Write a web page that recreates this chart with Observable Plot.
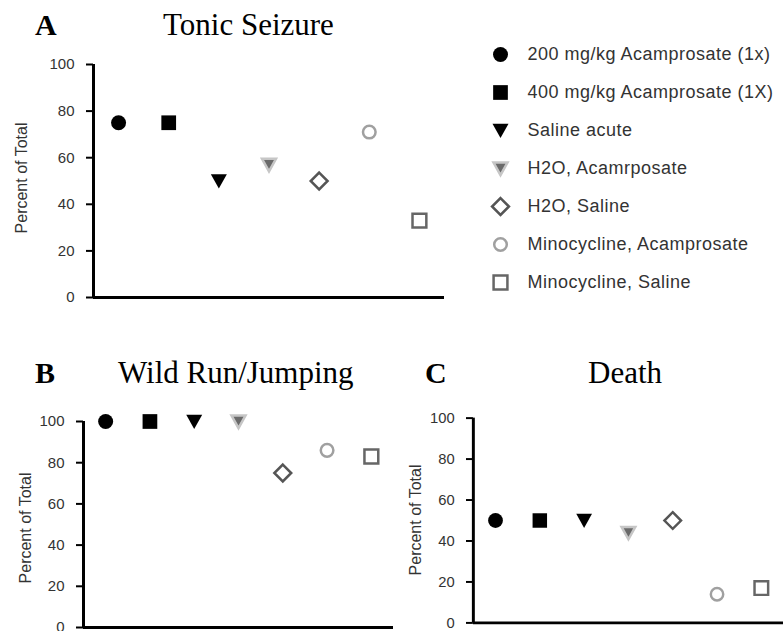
<!DOCTYPE html>
<html><head><meta charset="utf-8">
<script src="https://cdn.jsdelivr.net/npm/d3@7"></script>
<script src="https://cdn.jsdelivr.net/npm/@observablehq/plot@0.6"></script>
<style>
body{margin:0;background:#fff;overflow:hidden;}
#wrap{position:relative;width:783px;height:631px;overflow:hidden;font-family:Arial,"Liberation Sans",sans-serif;}
.p{position:absolute;}
.p svg{overflow:visible;}
.p svg g[aria-label="y-axis tick label"]{font-size:15px;}
</style></head><body><div id="wrap"></div>
<script>
// ---- data ----
const groups = ["200 mg/kg Acamprosate (1x)", "400 mg/kg Acamprosate (1X)", "Saline acute", "H2O, Acamrposate", "H2O, Saline", "Minocycline, Acamprosate", "Minocycline, Saline"];
const tonicSeizure = [75, 75, 50, 57, 50, 71, 33];
const wildRunJumping = [100, 100, 100, 100, 75, 86, 83];
const death = [50, 50, 50, 44, 50, 14, 17];
const yTicks = [0, 20, 40, 60, 80, 100];
const panelLetters = ["A", "B", "C"];
const panelTitles = ["Tonic Seizure", "Wild Run/Jumping", "Death"];
const yLabel = "Percent of Total";

// ---- styles ----
const triDown = {draw(ctx, size){ const r = Math.sqrt(size/Math.PI); ctx.moveTo(-r,-0.85*r); ctx.lineTo(r,-0.85*r); ctx.lineTo(0,0.95*r); ctx.closePath(); }};
const styles = [
  {symbol:"circle", r:7.5, fill:"#000", stroke:"none"},
  {symbol:"square", r:8.3, fill:"#000", stroke:"none"},
  {symbol:triDown, r:8, fill:"#000", stroke:"none"},
  {symbol:triDown, r:7, fill:"#6a6a6a", stroke:"#c6c6c6", strokeWidth:2.5},
  {symbol:"diamond2", r:7.6, fill:"#fff", stroke:"#555", strokeWidth:2.5},
  {symbol:"circle", r:6.3, fill:"#fff", stroke:"#a0a0a0", strokeWidth:2.5},
  {symbol:"square", r:7.8, fill:"#fff", stroke:"#666", strokeWidth:2.5}
];
const wrap = document.getElementById("wrap");
const xDomain = [-0.5, groups.length - 0.5];

function place(el, left, top){ const d = document.createElement("div"); d.className = "p"; d.style.left = left+"px"; d.style.top = top+"px"; d.appendChild(el); wrap.appendChild(d); }

function panel(values, cfg){
  const data = groups.map((g, i) => ({g, i, v: values[i]}));
  const marks = [
    Plot.ruleY([0], {stroke:"#000", strokeWidth:3}),
    Plot.ruleX([xDomain[0]], {stroke:"#000", strokeWidth:3}),
    Plot.axisY({ticks: yTicks, tickSize: 7, tickPadding: 12, label: null, strokeWidth: 2, fill: "#333", stroke: "#000", fontSize: cfg.fs})
  ];
  data.forEach((d, i) => marks.push(Plot.dot([d], {x: "i", y: "v", ...styles[i]})));
  return Plot.plot({
    width: cfg.width, height: cfg.height,
    marginLeft: cfg.ml, marginRight: cfg.mr, marginTop: cfg.mt, marginBottom: cfg.mb,
    x: {domain: xDomain, axis: null},
    y: {domain: [0, 100]},
    style: {fontFamily: "Arial, 'Liberation Sans', sans-serif", fontSize: cfg.fs + "px", background: "transparent", color: "#000"},
    marks
  });
}

place(panel(tonicSeizure, {width:450, height:310, ml:93, mr:6, mt:64, mb:13, fs:15}), 0, 0);
place(panel(wildRunJumping, {width:400, height:301, ml:83, mr:7, mt:91, mb:4, fs:15}), 0, 330);
place(panel(death, {width:389, height:301, ml:74, mr:0, mt:89, mb:4, fs:14}), 400, 330);

// legend
const legendMarks = [];
groups.forEach((g, i) => legendMarks.push(Plot.dot([g], {y: d => d, frameAnchor: "left", ...styles[i]})));
legendMarks.push(Plot.text(groups, {y: d => d, text: d => d, frameAnchor: "left", dx: 27, textAnchor: "start", fill: "#333", fontSize: 18}));
const legend = Plot.plot({
  width: 343, height: 300, marginLeft: 60, marginRight: 0, marginTop: 54, marginBottom: 18,
  y: {type: "point", domain: groups, padding: 0, axis: null},
  style: {fontFamily: "Arial, 'Liberation Sans', sans-serif", letterSpacing: "0.5px", background: "transparent"},
  marks: legendMarks
});
place(legend, 440, 0);

// titles & axis labels overlay
const ns = "http://www.w3.org/2000/svg";
const ov = document.createElementNS(ns, "svg");
ov.setAttribute("width", 783); ov.setAttribute("height", 631);
ov.style.position = "absolute"; ov.style.left = "0"; ov.style.top = "0"; ov.style.pointerEvents = "none";
function txt(s, x, y, attrs){ const t = document.createElementNS(ns, "text"); t.textContent = s; t.setAttribute("x", x); t.setAttribute("y", y); for (const k in attrs) t.setAttribute(k, attrs[k]); ov.appendChild(t); }
const serif = "'Times New Roman','Liberation Serif',serif";
const letterPos = [[35, 35], [35, 383], [425, 383]];
const titlePos = [[163, 35], [118, 383], [588, 383]];
panelLetters.forEach((l, i) => txt(l, letterPos[i][0], letterPos[i][1], {"font-family": serif, "font-size": 30, "font-weight": "bold", fill: "#000"}));
panelTitles.forEach((l, i) => txt(l, titlePos[i][0], titlePos[i][1], {"font-family": serif, "font-size": 31, fill: "#000"}));
const labPos = [[21, 178], [25, 528], [415, 520]];
labPos.forEach(([x, y]) => txt(yLabel, 0, 0, {"font-family": "Arial,'Liberation Sans',sans-serif", "font-size": 16, fill: "#333", "text-anchor": "middle", "dominant-baseline": "central", transform: `translate(${x},${y}) rotate(-90)`}));
wrap.appendChild(ov);
</script></body></html>
